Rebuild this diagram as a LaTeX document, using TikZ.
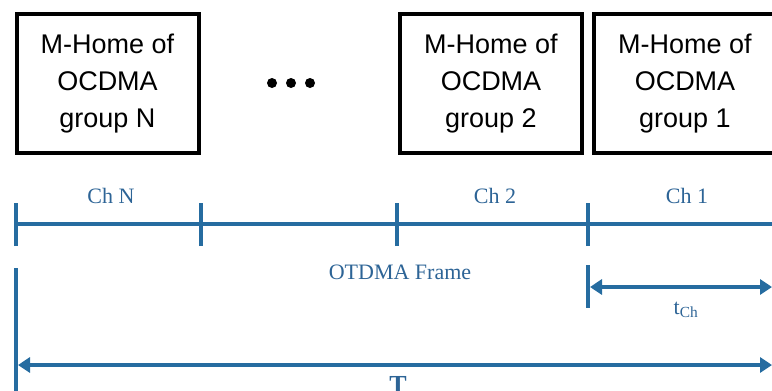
\documentclass[tikz,border=0pt]{standalone}
\usepackage{fontspec}
\setmainfont{Liberation Serif}
\newfontfamily\boxfont{Liberation Sans}
\usetikzlibrary{arrows.meta}
\definecolor{frameblue}{RGB}{38,108,160}
\definecolor{labelblue}{RGB}{45,100,150}

\begin{document}
\begin{tikzpicture}[x=1pt,y=-1pt,
  groupbox/.style={draw=black, line width=4pt, minimum width=182pt,
    minimum height=139pt, inner sep=0pt, align=center,
    font=\boxfont\fontsize{27}{37}\selectfont},
  blueline/.style={draw=frameblue, line width=4pt},
  tip/.style={-{Triangle[length=12pt,width=15pt]}},
  bothtips/.style={{Triangle[length=12pt,width=15pt]}-{Triangle[length=12pt,width=15pt]}},
  chlabel/.style={text=labelblue, inner sep=0pt, font=\fontsize{22}{24}\selectfont},
  dot/.style={circle, fill=black, minimum size=10pt, inner sep=0pt}]
\useasboundingbox (0,0) rectangle (772,391);
\clip (0,0) rectangle (772,391);

% OCDMA group boxes
\node[groupbox] (gN) at (107.5,83.5) {M-Home of\\OCDMA\\group N};
\node[groupbox] (g2) at (491,83.5) {M-Home of\\OCDMA\\group 2};
\node[groupbox] (g1) at (685,83.5) {M-Home of\\OCDMA\\group 1};

% ellipsis between the boxes
\node[dot] (d1) at (272,83) {};
\node[dot] (d2) at (291,83) {};
\node[dot] (d3) at (310,83) {};

% OTDMA frame time line with channel boundaries
\coordinate (tA) at (16,224);
\coordinate (tB) at (201,224);
\coordinate (tC) at (397,224);
\coordinate (tD) at (588,224);
\coordinate (tE) at (772,224);
\draw[blueline] (tA) -- (tE);
\foreach \p in {tA,tB,tC,tD}
  \draw[blueline] ([yshift=-22pt]\p) -- ([yshift=21pt]\p);

\node[chlabel] (chN) at (111,196) {Ch N};
\node[chlabel] (ch2) at (495,196) {Ch 2};
\node[chlabel] (ch1) at (687,196) {Ch 1};
\node[chlabel] (frame) at (400,272) {OTDMA Frame};

% channel duration t_Ch
\coordinate (cs) at (588,287);
\coordinate (ce) at (772,287);
\draw[blueline] (588,265) -- (588,308);
\draw[blueline, bothtips] ([xshift=2pt]cs) -- (ce);
\node[chlabel] (tch) at (686,310) {t\textsubscript{Ch}};

% whole frame duration T
\coordinate (fs) at (16,365);
\coordinate (fe) at (772,365);
\draw[blueline] (16,268) -- (16,395);
\draw[blueline, bothtips] ([xshift=2pt]fs) -- (fe);
\node[text=labelblue, inner sep=0pt, anchor=base,
  font=\bfseries\fontsize{26}{26}\selectfont] (T) at (398,393) {T};
\end{tikzpicture}
\end{document}
